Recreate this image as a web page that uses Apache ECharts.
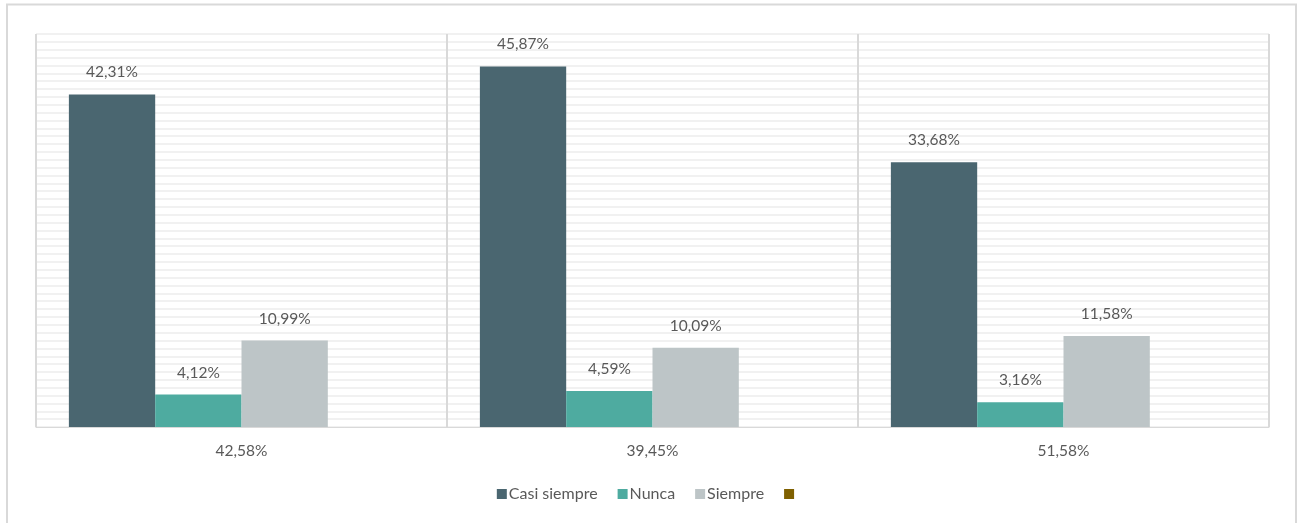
<!DOCTYPE html>
<html>
<head>
<meta charset="utf-8">
<script src="https://cdn.jsdelivr.net/npm/echarts@6/dist/echarts.min.js"></script>
<style>
  html, body { margin: 0; padding: 0; background: #fff; }
  #chart { width: 1297px; height: 523px; }
</style>
</head>
<body>
<div id="chart"></div>
<script>
// categorias (etiquetas del eje x)
const categories = ['42,58%', '39,45%', '51,58%'];
// series
const casiSiempre = [42.31, 45.87, 33.68];
const nunca = [4.12, 4.59, 3.16];
const siempre = [10.99, 10.09, 11.58];
const vacia = [0, 0, 0];

const fmt = p => p.value.toFixed(2).replace('.', ',') + '%';

function barSerie (name, data, color, showLabel) {
  return {
    name: name,
    type: 'bar',
    data: data,
    barGap: '0%',
    barCategoryGap: '16%',
    itemStyle: { color: color },
    label: {
      show: showLabel,
      position: 'top',
      distance: 14,
      color: '#595959',
      fontSize: 15.5,
      fontFamily: 'Lato',
      formatter: fmt
    }
  };
}

const chart = echarts.init(document.getElementById('chart'));
chart.setOption({
  animation: false,
  textStyle: { fontFamily: 'Lato' },
  graphic: [{
    type: 'rect',
    shape: { x: 7, y: 4.5, width: 1289, height: 530 },
    style: { fill: 'none', stroke: '#d9d9d9', lineWidth: 2 },
    silent: true
  }],
  grid: { left: 36, right: 28, top: 34, bottom: 96 },
  legend: {
    bottom: 16,
    left: 'center',
    itemWidth: 10,
    itemHeight: 10,
    itemGap: 20,
    icon: 'rect',
    textStyle: { color: '#595959', fontSize: 16, fontFamily: 'Lato', padding: [0, 0, 0, -3] },
    data: ['Casi siempre', 'Nunca', 'Siempre', ' ']
  },
  xAxis: {
    type: 'category',
    data: categories,
    axisTick: { show: false },
    axisLine: { lineStyle: { color: '#d9d9d9', width: 1 } },
    axisLabel: { color: '#595959', fontSize: 15.5, margin: 16 },
    splitLine: { show: true, lineStyle: { color: '#d9d9d9', width: 2 } }
  },
  yAxis: {
    type: 'value',
    min: 0,
    max: 50,
    interval: 1,
    axisLabel: { show: false },
    axisTick: { show: false },
    axisLine: { show: false },
    splitLine: { lineStyle: { color: '#ededed', width: 1.5 } }
  },
  series: [
    barSerie('Casi siempre', casiSiempre, '#4a6670', true),
    barSerie('Nunca', nunca, '#4eaba0', true),
    barSerie('Siempre', siempre, '#bdc5c7', true),
    barSerie(' ', vacia, '#7f6000', false)
  ]
});
</script>
</body>
</html>
